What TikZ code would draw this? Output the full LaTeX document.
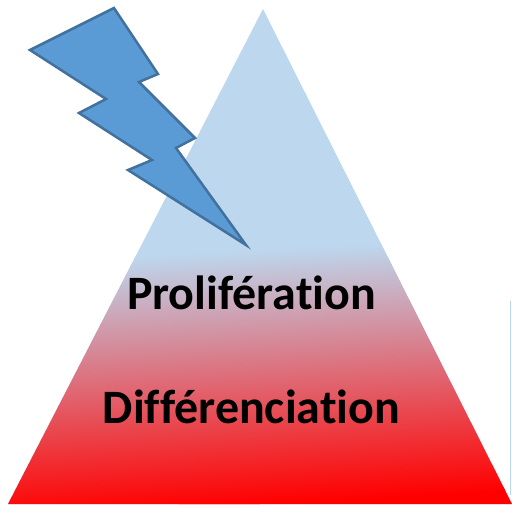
\documentclass[tikz,border=0pt]{standalone}
\usepackage{fontspec}
\setmainfont[RawFeature={-liga;-dlig;-clig}]{Carlito}
\definecolor{apexblue}{HTML}{BDD7EE}
\definecolor{boltblue}{HTML}{5B9BD5}
\definecolor{boltedge}{HTML}{41719C}
\begin{document}
\begin{tikzpicture}[
  x=0.02cm, y=-0.02cm,
  label/.style={font=\fontsize{27.3}{32}\selectfont\bfseries, text=black, inner sep=0pt},
  bolt/.style={fill=boltblue, draw=boltedge, line width=0.05cm, line join=miter}
]
  \useasboundingbox (0,0) rectangle (512,505);

  % Pyramid
  \fill[apexblue] (263,9) -- (512,504) -- (8,504) -- cycle;
  \begin{scope}
    \clip (263,9) -- (512,504) -- (8,504) -- cycle;
    \begin{scope}[transform canvas={rotate around={3:(260,504)}}]
      \fill[red] (-100,500) rectangle (700,600);
      \shade[top color=apexblue, bottom color=red] (-100,250) rectangle (700,504);
    \end{scope}
  \end{scope}

  % Edge at the right border
  \draw[apexblue, line width=0.02cm] (511,301) -- (511,495);

  % Lightning
  \draw[bolt] (114,8) -- (158,74) -- (139,82) -- (195,138) -- (176,148) -- (246,245)
    -- (128,170) -- (152,160) -- (79,113) -- (106,99) -- (30,50) -- cycle;

  \node[label] (prolif) at (251.5,293) {Prolifération};
  \node[label] (diff) at (251.5,407) {Différenciation};
\end{tikzpicture}
\end{document}
